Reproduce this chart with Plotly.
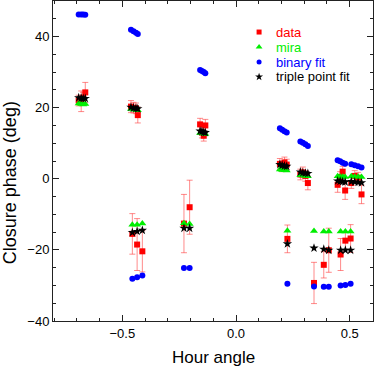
import plotly.graph_objects as go

# ---- data ----
hour_angle = [
    -0.692, -0.681, -0.672, -0.663,            # cluster A (upper)
    -0.462, -0.451, -0.440, -0.432,            # cluster B (upper)
    -0.456, -0.435, -0.412,                    # cluster B (lower)
    -0.229, -0.204,                            # cluster C (lower)
    -0.158, -0.150, -0.142, -0.135,            # cluster C (upper)
    0.193, 0.203, 0.213, 0.223,                # cluster D (upper)
    0.226,                                     # cluster D (lower)
    0.283, 0.294, 0.305, 0.316,                # cluster D2 (upper)
    0.343, 0.386, 0.408, 0.460, 0.481, 0.504,  # cluster E (lower)
    0.447, 0.458, 0.469, 0.480,                # cluster E1 (upper)
    0.507, 0.522, 0.537, 0.552,                # cluster E2 (upper)
]
data_cp = [
    22.0, 21.8, 22.8, 24.3,
    20.3, 20.0, 19.8, 17.9,
    -15.5, -18.5, -20.4,
    -12.6, -8.0,
    15.3, 13.0, 12.1, 15.0,
    4.2, 3.5, 4.6, 4.0,
    -16.9,
    1.2, 1.8, 0.8, -1.2,
    -29.3, -24.2, -20.1, -21.3, -17.4, -16.8,
    -1.7, 0.5, 2.0, -3.3,
    -1.2, 0.8, 0.3, -4.4,
]
data_err = [
    1.5, 2.9, 1.5, 2.8,
    1.7, 1.5, 1.5, 2.2,
    5.7, 7.3, 5.8,
    8.2, 7.6,
    1.7, 1.5, 1.5, 1.7,
    1.5, 1.5, 1.5, 1.5,
    3.9,
    1.5, 1.5, 1.5, 1.9,
    5.8, 3.7, 6.2, 4.5, 2.5, 3.9,
    2.1, 1.5, 1.5, 2.5,
    1.5, 1.5, 1.5, 2.6,
]
mira_cp = [
    21.2, 21.0, 20.9, 21.0,
    19.6, 19.5, 19.4, 19.3,
    -12.9, -12.9, -12.6,
    -12.5, -12.7,
    12.9, 12.8, 12.7, 12.6,
    2.6, 2.5, 2.4, 2.3,
    -14.6,
    1.0, 0.9, 0.8, 0.7,
    -14.7, -14.8, -14.8, -14.8, -14.8, -14.8,
    0.7, 0.6, 0.6, 0.5,
    0.7, 0.6, 0.6, 0.5,
]
binary_cp = [
    46.2, 46.2, 46.2, 46.1,
    41.9, 41.5, 41.1, 40.7,
    -28.1, -27.7, -27.2,
    -25.1, -25.1,
    30.6, 30.3, 30.0, 29.7,
    14.2, 13.8, 13.4, 13.0,
    -29.5,
    10.5, 10.1, 9.7, 9.2,
    -30.3, -30.4, -30.4, -30.0, -29.9, -29.5,
    5.2, 4.9, 4.5, 4.2,
    4.1, 3.8, 3.5, 3.2,
]
triple_cp = [
    22.8, 22.7, 22.6, 22.6,
    20.1, 19.9, 19.8, 19.7,
    -15.1, -14.8, -14.5,
    -13.9, -13.9,
    13.4, 13.3, 13.1, 13.0,
    4.0, 3.8, 3.6, 3.5,
    -18.3,
    1.9, 1.7, 1.6, 1.5,
    -19.5, -19.8, -20.1, -20.1, -20.1, -20.1,
    -0.6, -0.7, -0.8, -0.9,
    -0.8, -0.9, -1.0, -1.1,
]

series_names = ["data", "mira", "binary fit", "triple point fit"]
series_colors = ["#ff0000", "#00ee00", "#0000ff", "#000000"]
series_symbols = ["square", "triangle-up", "circle", "star"]
series_sizes = [6, 7, 6, 7]

x_ticks = [-0.5, 0.0, 0.5]
y_ticks = [-40, -20, 0, 20, 40]

FONT = "Liberation Sans, Arial, Helvetica, sans-serif"

fig = go.Figure()

fig.add_trace(go.Scatter(
    x=hour_angle, y=data_cp, mode="markers", name=series_names[0],
    marker=dict(symbol=series_symbols[0], size=series_sizes[0], color=series_colors[0]),
    error_y=dict(type="data", array=data_err, color="rgba(255,60,60,0.6)", thickness=1, width=3),
    showlegend=False,
))
fig.add_trace(go.Scatter(
    x=hour_angle, y=mira_cp, mode="markers", name=series_names[1],
    marker=dict(symbol=series_symbols[1], size=series_sizes[1], color=series_colors[1]),
    showlegend=False,
))
fig.add_trace(go.Scatter(
    x=hour_angle, y=binary_cp, mode="markers", name=series_names[2],
    marker=dict(symbol=series_symbols[2], size=series_sizes[2], color=series_colors[2]),
    showlegend=False,
))
fig.add_trace(go.Scatter(
    x=hour_angle, y=triple_cp, mode="markers", name=series_names[3],
    marker=dict(symbol=series_symbols[3], size=series_sizes[3], color=series_colors[3]),
    showlegend=False,
))

# ---- hand-drawn legend (overlay axes in 0..1 units) ----
leg_x_marker = 0.644
leg_x_text = 0.692
leg_y = [0.903, 0.856, 0.809, 0.763]
for i, nm in enumerate(series_names):
    fig.add_trace(go.Scatter(
        x=[leg_x_marker], y=[leg_y[i]], xaxis="x2", yaxis="y2", mode="markers",
        marker=dict(symbol=series_symbols[i], size=series_sizes[i] - 1, color=series_colors[i]),
        showlegend=False, hoverinfo="skip",
    ))
    fig.add_annotation(
        x=leg_x_text, y=leg_y[i], xref="paper", yref="paper", text=nm,
        showarrow=False, xanchor="left", yanchor="middle",
        font=dict(family=FONT, size=13, color=series_colors[i]),
    )

axis_common = dict(
    showline=True, linecolor="#222222", linewidth=1, mirror="allticks",
    ticks="inside", ticklen=6, tickcolor="#222222", tickwidth=1,
    showgrid=False, zeroline=False,
    tickfont=dict(family=FONT, size=13, color="#000000"),
)

fig.update_layout(
    width=374, height=377,
    margin=dict(l=53, r=1, t=1, b=56),
    paper_bgcolor="white", plot_bgcolor="white",
    showlegend=False,
    font=dict(family=FONT, size=13, color="black"),
    xaxis=dict(range=[-0.805, 0.6025], tickvals=x_ticks,
               ticktext=["\u22120.5", "0.0", "0.5"],
               minor=dict(dtick=0.1, tick0=0, ticks="inside", ticklen=3, tickcolor="#222222"),
               **axis_common),
    yaxis=dict(range=[-40, 50], tickvals=y_ticks,
               ticktext=["\u221240", "\u221220", "0", "20", "40"],
               minor=dict(dtick=5, tick0=0, ticks="inside", ticklen=3, tickcolor="#222222"),
               **axis_common),
    xaxis2=dict(range=[0, 1], overlaying="x", visible=False, fixedrange=True),
    yaxis2=dict(range=[0, 1], overlaying="y", visible=False, fixedrange=True),
)

fig.add_annotation(text="Hour angle", x=0.5, y=-0.115, xref="paper", yref="paper",
                   showarrow=False, xanchor="center", yanchor="middle",
                   font=dict(family=FONT, size=17, color="black"))
fig.add_annotation(text="Closure phase (deg)", x=-0.134, y=0.431, xref="paper", yref="paper",
                   showarrow=False, textangle=-90, xanchor="center", yanchor="middle",
                   font=dict(family=FONT, size=18, color="black"))

fig.write_html("out.html", config={"displayModeBar": False},
               post_script="document.body.style.margin='0';")
